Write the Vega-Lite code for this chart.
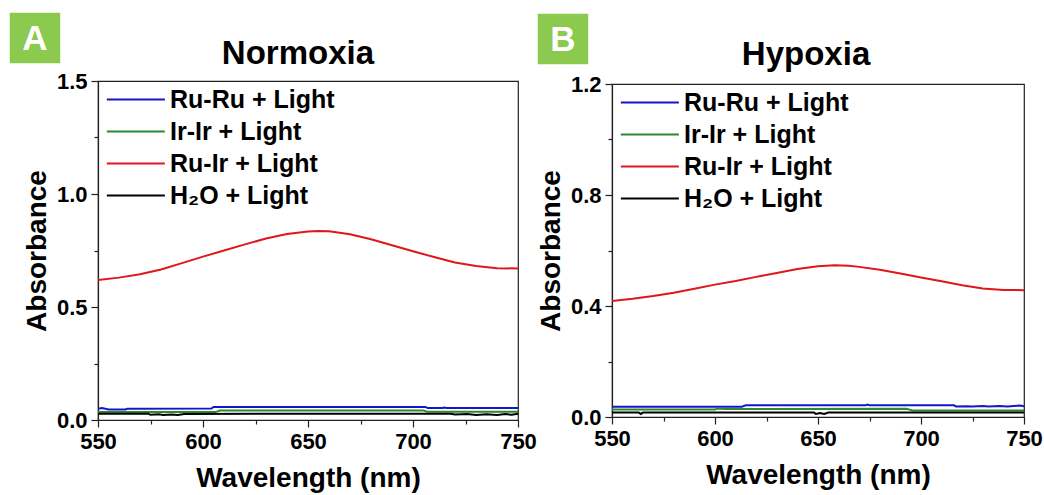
{
  "$schema": "https://vega.github.io/schema/vega-lite/v6.json",
  "background": "white",
  "padding": {"left": 9, "top": 12, "right": 5, "bottom": 5},
  "datasets": {
    "d": [
      {"p":"N","s":"Ru-Ir + Light","w":550,"a":0.619},{"p":"N","s":"Ru-Ir + Light","w":560,"a":0.630},{"p":"N","s":"Ru-Ir + Light","w":570,"a":0.645},{"p":"N","s":"Ru-Ir + Light","w":580,"a":0.666},{"p":"N","s":"Ru-Ir + Light","w":590,"a":0.694},{"p":"N","s":"Ru-Ir + Light","w":600,"a":0.723},{"p":"N","s":"Ru-Ir + Light","w":610,"a":0.750},{"p":"N","s":"Ru-Ir + Light","w":620,"a":0.777},{"p":"N","s":"Ru-Ir + Light","w":630,"a":0.803},{"p":"N","s":"Ru-Ir + Light","w":640,"a":0.823},{"p":"N","s":"Ru-Ir + Light","w":650,"a":0.834},{"p":"N","s":"Ru-Ir + Light","w":655,"a":0.836},{"p":"N","s":"Ru-Ir + Light","w":660,"a":0.835},{"p":"N","s":"Ru-Ir + Light","w":670,"a":0.822},{"p":"N","s":"Ru-Ir + Light","w":680,"a":0.800},{"p":"N","s":"Ru-Ir + Light","w":690,"a":0.773},{"p":"N","s":"Ru-Ir + Light","w":700,"a":0.747},{"p":"N","s":"Ru-Ir + Light","w":710,"a":0.721},{"p":"N","s":"Ru-Ir + Light","w":720,"a":0.697},{"p":"N","s":"Ru-Ir + Light","w":730,"a":0.681},{"p":"N","s":"Ru-Ir + Light","w":740,"a":0.672},{"p":"N","s":"Ru-Ir + Light","w":750,"a":0.670},
      {"p":"N","s":"Ru-Ru + Light","w":550,"a":0.050},{"p":"N","s":"Ru-Ru + Light","w":552,"a":0.053},{"p":"N","s":"Ru-Ru + Light","w":555,"a":0.047},{"p":"N","s":"Ru-Ru + Light","w":563,"a":0.047},{"p":"N","s":"Ru-Ru + Light","w":564,"a":0.050},{"p":"N","s":"Ru-Ru + Light","w":604,"a":0.051},{"p":"N","s":"Ru-Ru + Light","w":605,"a":0.058},{"p":"N","s":"Ru-Ru + Light","w":706,"a":0.058},{"p":"N","s":"Ru-Ru + Light","w":707,"a":0.053},{"p":"N","s":"Ru-Ru + Light","w":714,"a":0.053},{"p":"N","s":"Ru-Ru + Light","w":715,"a":0.055},{"p":"N","s":"Ru-Ru + Light","w":716,"a":0.053},{"p":"N","s":"Ru-Ru + Light","w":750,"a":0.053},
      {"p":"N","s":"Ir-Ir + Light","w":550,"a":0.035},{"p":"N","s":"Ir-Ir + Light","w":606,"a":0.035},{"p":"N","s":"Ir-Ir + Light","w":608,"a":0.042},{"p":"N","s":"Ir-Ir + Light","w":705,"a":0.042},{"p":"N","s":"Ir-Ir + Light","w":707,"a":0.036},{"p":"N","s":"Ir-Ir + Light","w":750,"a":0.036},
      {"p":"N","s":"H₂O + Light","w":550,"a":0.028},{"p":"N","s":"H₂O + Light","w":574,"a":0.028},{"p":"N","s":"H₂O + Light","w":575,"a":0.023},{"p":"N","s":"H₂O + Light","w":579,"a":0.025},{"p":"N","s":"H₂O + Light","w":581,"a":0.022},{"p":"N","s":"H₂O + Light","w":585,"a":0.024},{"p":"N","s":"H₂O + Light","w":588,"a":0.022},{"p":"N","s":"H₂O + Light","w":591,"a":0.027},{"p":"N","s":"H₂O + Light","w":680,"a":0.028},{"p":"N","s":"H₂O + Light","w":718,"a":0.028},{"p":"N","s":"H₂O + Light","w":720,"a":0.024},{"p":"N","s":"H₂O + Light","w":726,"a":0.026},{"p":"N","s":"H₂O + Light","w":730,"a":0.022},{"p":"N","s":"H₂O + Light","w":735,"a":0.025},{"p":"N","s":"H₂O + Light","w":740,"a":0.022},{"p":"N","s":"H₂O + Light","w":744,"a":0.026},{"p":"N","s":"H₂O + Light","w":747,"a":0.023},{"p":"N","s":"H₂O + Light","w":750,"a":0.028},
      {"p":"H","s":"Ru-Ir + Light","w":550,"a":0.418},{"p":"H","s":"Ru-Ir + Light","w":560,"a":0.426},{"p":"H","s":"Ru-Ir + Light","w":570,"a":0.436},{"p":"H","s":"Ru-Ir + Light","w":580,"a":0.448},{"p":"H","s":"Ru-Ir + Light","w":590,"a":0.462},{"p":"H","s":"Ru-Ir + Light","w":600,"a":0.477},{"p":"H","s":"Ru-Ir + Light","w":610,"a":0.490},{"p":"H","s":"Ru-Ir + Light","w":620,"a":0.505},{"p":"H","s":"Ru-Ir + Light","w":630,"a":0.519},{"p":"H","s":"Ru-Ir + Light","w":640,"a":0.533},{"p":"H","s":"Ru-Ir + Light","w":650,"a":0.543},{"p":"H","s":"Ru-Ir + Light","w":658,"a":0.547},{"p":"H","s":"Ru-Ir + Light","w":665,"a":0.545},{"p":"H","s":"Ru-Ir + Light","w":670,"a":0.541},{"p":"H","s":"Ru-Ir + Light","w":680,"a":0.531},{"p":"H","s":"Ru-Ir + Light","w":690,"a":0.517},{"p":"H","s":"Ru-Ir + Light","w":700,"a":0.503},{"p":"H","s":"Ru-Ir + Light","w":710,"a":0.489},{"p":"H","s":"Ru-Ir + Light","w":720,"a":0.475},{"p":"H","s":"Ru-Ir + Light","w":730,"a":0.463},{"p":"H","s":"Ru-Ir + Light","w":740,"a":0.458},{"p":"H","s":"Ru-Ir + Light","w":750,"a":0.457},
      {"p":"H","s":"Ru-Ru + Light","w":550,"a":0.037},{"p":"H","s":"Ru-Ru + Light","w":613,"a":0.037},{"p":"H","s":"Ru-Ru + Light","w":615,"a":0.042},{"p":"H","s":"Ru-Ru + Light","w":673,"a":0.042},{"p":"H","s":"Ru-Ru + Light","w":674,"a":0.045},{"p":"H","s":"Ru-Ru + Light","w":675,"a":0.042},{"p":"H","s":"Ru-Ru + Light","w":716,"a":0.042},{"p":"H","s":"Ru-Ru + Light","w":717,"a":0.038},{"p":"H","s":"Ru-Ru + Light","w":722,"a":0.039},{"p":"H","s":"Ru-Ru + Light","w":725,"a":0.038},{"p":"H","s":"Ru-Ru + Light","w":730,"a":0.040},{"p":"H","s":"Ru-Ru + Light","w":733,"a":0.038},{"p":"H","s":"Ru-Ru + Light","w":738,"a":0.040},{"p":"H","s":"Ru-Ru + Light","w":742,"a":0.038},{"p":"H","s":"Ru-Ru + Light","w":745,"a":0.040},{"p":"H","s":"Ru-Ru + Light","w":748,"a":0.041},{"p":"H","s":"Ru-Ru + Light","w":750,"a":0.039},
      {"p":"H","s":"Ir-Ir + Light","w":550,"a":0.027},{"p":"H","s":"Ir-Ir + Light","w":600,"a":0.027},{"p":"H","s":"Ir-Ir + Light","w":601,"a":0.031},{"p":"H","s":"Ir-Ir + Light","w":605,"a":0.029},{"p":"H","s":"Ir-Ir + Light","w":693,"a":0.030},{"p":"H","s":"Ir-Ir + Light","w":696,"a":0.023},{"p":"H","s":"Ir-Ir + Light","w":750,"a":0.023},
      {"p":"H","s":"H₂O + Light","w":550,"a":0.016},{"p":"H","s":"H₂O + Light","w":563,"a":0.016},{"p":"H","s":"H₂O + Light","w":564,"a":0.011},{"p":"H","s":"H₂O + Light","w":565,"a":0.016},{"p":"H","s":"H₂O + Light","w":648,"a":0.016},{"p":"H","s":"H₂O + Light","w":649,"a":0.011},{"p":"H","s":"H₂O + Light","w":651,"a":0.014},{"p":"H","s":"H₂O + Light","w":653,"a":0.011},{"p":"H","s":"H₂O + Light","w":655,"a":0.016},{"p":"H","s":"H₂O + Light","w":750,"a":0.016}
    ]
  },
  "spacing": 94,
  "bounds": "flush",
  "center": true,
  "resolve": {"scale": {"color": "independent"}, "legend": {"color": "independent"}},
  "hconcat": [
    {
      "width": 420,
      "height": 339,
      "layer": [
        {
          "data": {"name": "d"},
          "transform": [{"filter": "datum.p == 'N'"}],
          "mark": {"type": "line", "strokeWidth": 2, "clip": true},
          "encoding": {
            "x": {"field": "w", "type": "quantitative", "scale": {"domain": [550, 750], "nice": false, "zero": false},
              "axis": {"title": "Wavelength (nm)", "values": [550,575,600,625,650,675,700,725,750], "format": "d", "labelExpr": "datum.value % 50 == 0 ? datum.label : ''", "tickSize": {"condition": {"test": "datum.value % 50 != 0", "value": 4}, "value": 7}, "labelPadding": 4, "titlePadding": 12, "labelFlush": false}},
            "y": {"field": "a", "type": "quantitative", "scale": {"domain": [0, 1.5], "nice": false},
              "axis": {"title": "Absorbance", "values": [0,0.25,0.5,0.75,1.0,1.25,1.5], "labelExpr": "datum.value % 0.5 == 0 ? format(datum.value, '.1f') : ''", "tickSize": {"condition": {"test": "datum.value % 0.5 != 0", "value": 4}, "value": 7}, "labelPadding": 4, "titlePadding": 5, "labelFlush": false}},
            "color": {"field": "s", "type": "nominal", "scale": {"domain": ["Ru-Ru + Light", "Ir-Ir + Light", "Ru-Ir + Light", "H₂O + Light"], "range": ["#1515CC", "#2B8A2B", "#E0161B", "#000000"]}, "legend": {"title": null}}
          }
        },
        {
          "data": {"values": [{}]},
          "mark": {"type": "point", "shape": "square", "filled": true, "size": 2550, "color": "#8CC94F", "opacity": 1},
          "encoding": {"x": {"datum": 520, "type": "quantitative"}, "y": {"datum": 1.69, "type": "quantitative"}}
        },
        {
          "data": {"values": [{}]},
          "mark": {"type": "text", "font": "Liberation Sans", "fontSize": 35, "fontWeight": "bold", "color": "white", "align": "center", "baseline": "middle", "dy": 1},
          "encoding": {"x": {"datum": 520, "type": "quantitative"}, "y": {"datum": 1.69, "type": "quantitative"}, "text": {"value": "A"}}
        },
        {
          "data": {"values": [{}]},
          "mark": {"type": "text", "font": "Liberation Sans", "fontSize": 33, "fontWeight": "bold", "color": "black", "align": "center", "baseline": "alphabetic"},
          "encoding": {"x": {"datum": 645.2, "type": "quantitative"}, "y": {"datum": 1.575, "type": "quantitative"}, "text": {"value": "Normoxia"}}
        }
      ]
    },
    {
      "width": 412,
      "height": 333,
      "layer": [
        {
          "data": {"name": "d"},
          "transform": [{"filter": "datum.p == 'H'"}],
          "mark": {"type": "line", "strokeWidth": 2, "clip": true},
          "encoding": {
            "x": {"field": "w", "type": "quantitative", "scale": {"domain": [550, 750], "nice": false, "zero": false},
              "axis": {"title": "Wavelength (nm)", "values": [550,575,600,625,650,675,700,725,750], "format": "d", "labelExpr": "datum.value % 50 == 0 ? datum.label : ''", "tickSize": {"condition": {"test": "datum.value % 50 != 0", "value": 4}, "value": 7}, "labelPadding": 4, "titlePadding": 12, "labelFlush": false}},
            "y": {"field": "a", "type": "quantitative", "scale": {"domain": [0, 1.2], "nice": false},
              "axis": {"title": "Absorbance", "values": [0,0.2,0.4,0.6,0.8,1.0,1.2], "labelExpr": "round(datum.value*10) % 4 == 0 ? format(datum.value, '.1f') : ''", "tickSize": {"condition": {"test": "round(datum.value*10) % 4 != 0", "value": 4}, "value": 7}, "labelPadding": 4, "titlePadding": 5, "labelFlush": false}},
            "color": {"field": "s", "type": "nominal", "scale": {"domain": ["Ru-Ru + Light", "Ir-Ir + Light", "Ru-Ir + Light", "H₂O + Light"], "range": ["#1515CC", "#2B8A2B", "#E0161B", "#000000"]}, "legend": {"title": null}}
          }
        },
        {
          "data": {"values": [{}]},
          "mark": {"type": "point", "shape": "square", "filled": true, "size": 2550, "color": "#8CC94F", "opacity": 1},
          "encoding": {"x": {"datum": 526.2, "type": "quantitative"}, "y": {"datum": 1.362, "type": "quantitative"}}
        },
        {
          "data": {"values": [{}]},
          "mark": {"type": "text", "font": "Liberation Sans", "fontSize": 35, "fontWeight": "bold", "color": "white", "align": "center", "baseline": "middle", "dy": 1},
          "encoding": {"x": {"datum": 526.2, "type": "quantitative"}, "y": {"datum": 1.362, "type": "quantitative"}, "text": {"value": "B"}}
        },
        {
          "data": {"values": [{}]},
          "mark": {"type": "text", "font": "Liberation Sans", "fontSize": 33, "fontWeight": "bold", "color": "black", "align": "center", "baseline": "alphabetic"},
          "encoding": {"x": {"datum": 644.2, "type": "quantitative"}, "y": {"datum": 1.268, "type": "quantitative"}, "text": {"value": "Hypoxia"}}
        }
      ]
    }
  ],
  "config": {
    "view": {"stroke": "#222", "strokeWidth": 1.2},
    "axis": {"labelFont": "Liberation Sans", "labelFontSize": 22, "labelFontWeight": "bold", "labelColor": "black", "titleFont": "Liberation Sans", "titleFontSize": 28, "titleFontWeight": "bold", "titleColor": "black", "domainColor": "#222", "tickColor": "#222", "domainWidth": 1.2, "tickWidth": 1.2, "grid": false},
    "legend": {"orient": "top-left", "offset": 6, "padding": 0, "labelFont": "Liberation Sans", "labelFontSize": 25, "labelFontWeight": "bold", "labelColor": "black", "symbolType": "M-1,0H5", "symbolSize": 374, "symbolStrokeWidth": 2, "labelOffset": 41, "rowPadding": 6, "labelLimit": 400}
  }
}
